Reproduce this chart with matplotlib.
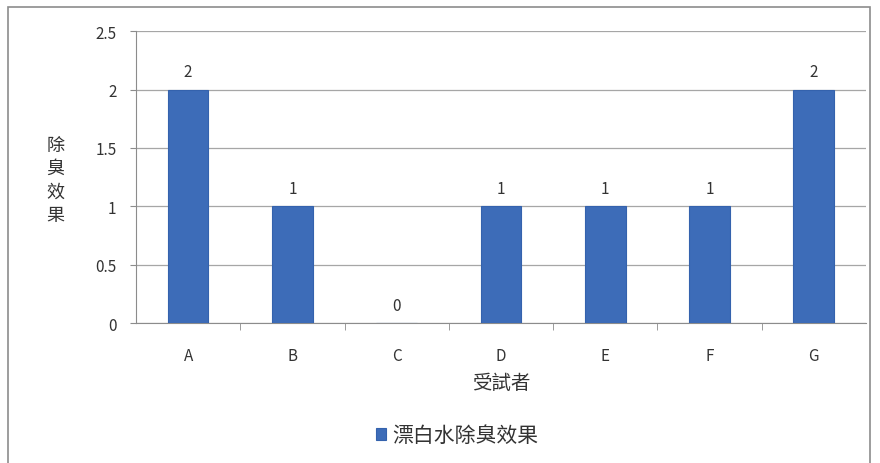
import matplotlib
matplotlib.use('Agg')
import matplotlib.pyplot as plt
from matplotlib.patches import Rectangle

plt.rcParams['font.family'] = ['Noto Sans CJK TC', 'DejaVu Sans']

#  Data
subjects = ['A', 'B', 'C', 'D', 'E', 'F', 'G']
effect = [2, 1, 0, 1, 1, 1, 2]
yticks = [0, 0.5, 1, 1.5, 2, 2.5]
ytick_labels = ['0', '0.5', '1', '1.5', '2', '2.5']
series_name = '漂白水除臭效果'

fig = plt.figure(figsize=(8.8, 4.64), dpi=100)
ax = fig.add_axes([0.1545, 0.3017, 0.8295, 0.629])

#  Outer chart border, like the Excel frame
fig.patches.append(Rectangle((8 / 880, -0.01), 862 / 880, 1 - 8 / 464 + 0.01,
                             transform=fig.transFigure, fill=False,
                             edgecolor='#8c8c8c', linewidth=1.2))

x = range(len(subjects))
bars = ax.bar(x, effect, width=0.39, color='#3d6cb8', edgecolor='#3462ad',
              linewidth=0.8, zorder=3, label=series_name)

for xi, v in zip(x, effect):
    ax.text(xi, v + 0.08, str(v), ha='center', va='bottom', fontsize=11,
            color='#333333')

ax.set_xlim(-0.5, len(subjects) - 0.5)
ax.set_ylim(0, 2.5)
ax.set_yticks(yticks)
ax.set_yticklabels(ytick_labels, fontsize=11, color='#333333')
ax.set_xticks(list(x))
ax.set_xticklabels(subjects, fontsize=11, color='#333333')
ax.tick_params(axis='x', length=0, pad=17)
ax.tick_params(axis='y', length=4, color='#8c8c8c', pad=10)

#  Tick marks between categories on the x axis
ax.set_xticks([i + 0.5 for i in range(len(subjects) - 1)], minor=True)
ax.tick_params(axis='x', which='minor', length=5, color='#8c8c8c')

ax.grid(axis='y', color='#a6a6a6', linewidth=0.9, zorder=0)
for side in ['top', 'right']:
    ax.spines[side].set_visible(False)
ax.spines['left'].set_color('#8c8c8c')
ax.spines['bottom'].set_color('#8c8c8c')

ax.set_xlabel('受試者', fontsize=14, color='#333333', labelpad=6)
ax.set_ylabel('除\n臭\n效\n果', fontsize=13, color='#333333', rotation=0,
              va='center', labelpad=38, linespacing=1.4)
ax.yaxis.set_label_coords(-0.11, 0.49)

ax.legend(loc='center', bbox_to_anchor=(0.44, -0.385), frameon=False,
          fontsize=15, handlelength=0.5, handleheight=0.5, handletextpad=0.3,
          labelcolor='#333333')

plt.savefig('out.png', dpi=100)
